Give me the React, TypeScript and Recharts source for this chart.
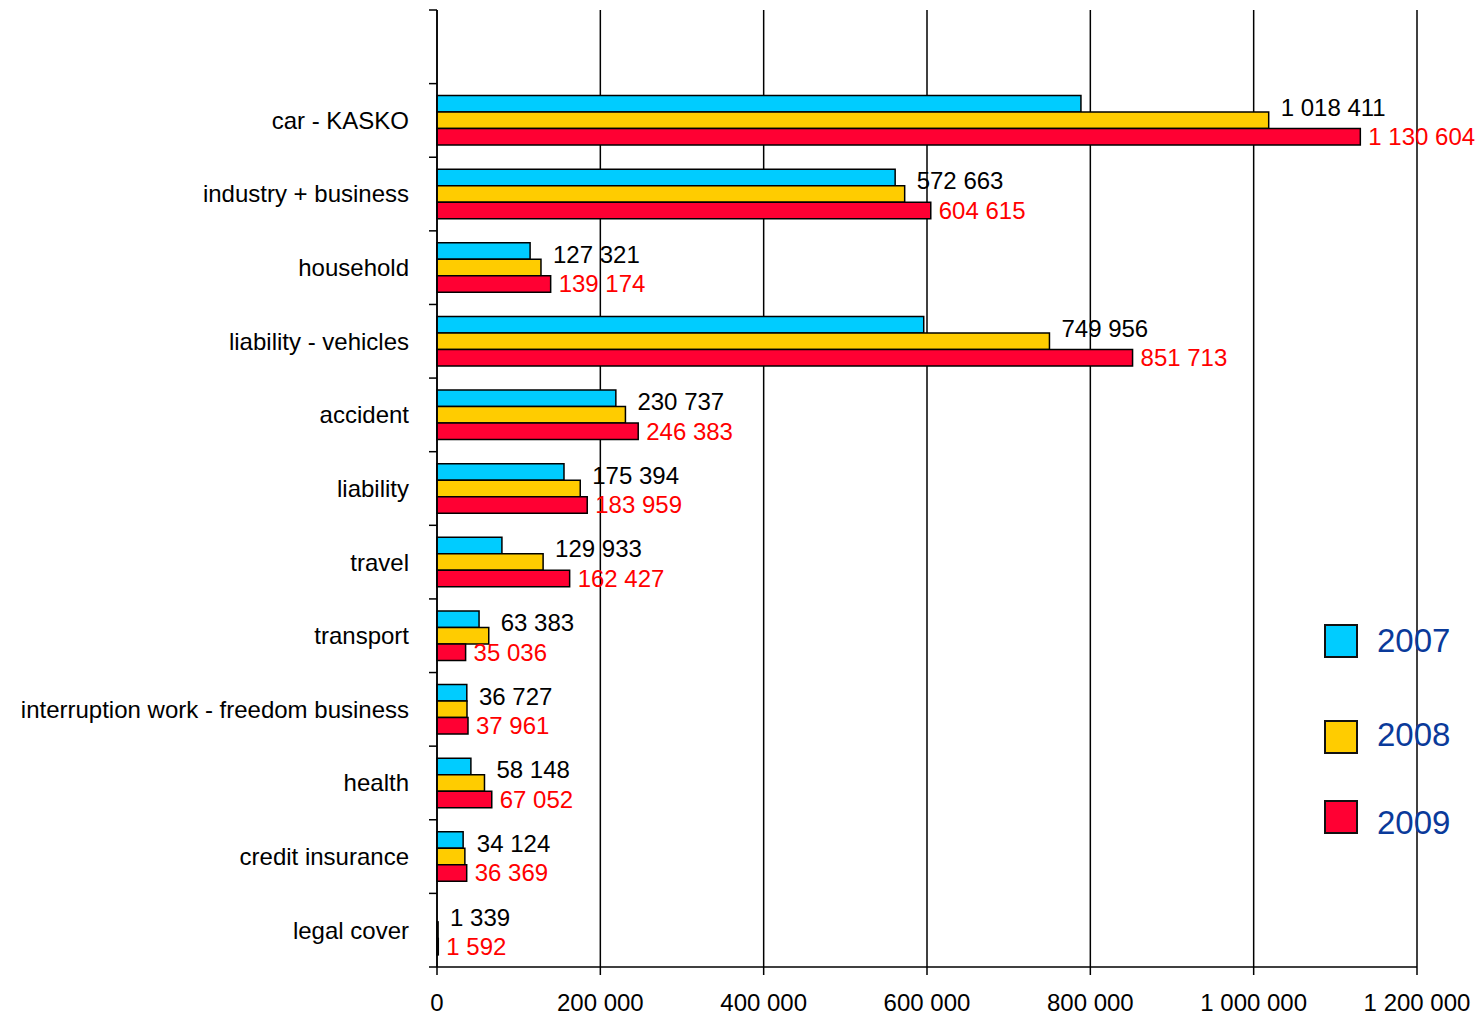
import React from 'react';
import {
  BarChart,
  Bar,
  XAxis,
  YAxis,
  CartesianGrid,
  LabelList
} from 'recharts';

const categories = [
  '',
  'car - KASKO',
  'industry + business',
  'household',
  'liability - vehicles',
  'accident',
  'liability',
  'travel',
  'transport',
  'interruption work - freedom business',
  'health',
  'credit insurance',
  'legal cover'
];

const values2007 = [null, 788500, 561000, 114000, 596000, 219000, 155500, 79500, 51500, 36500, 41500, 32000, null];
const values2008 = [null, 1018411, 572663, 127321, 749956, 230737, 175394, 129933, 63383, 36727, 58148, 34124, 1339];
const values2009 = [null, 1130604, 604615, 139174, 851713, 246383, 183959, 162427, 35036, 37961, 67052, 36369, 1592];

const xTicks = [0, 200000, 400000, 600000, 800000, 1000000, 1200000];

const series = [
  { key: 'y2007', name: '2007', color: '#00CCFF' },
  { key: 'y2008', name: '2008', color: '#FFCC00' },
  { key: 'y2009', name: '2009', color: '#FF0033' }
];

const data = categories.map((name, i) => ({
  name,
  y2007: values2007[i],
  y2008: values2008[i],
  y2009: values2009[i]
}));

const W = 1481;
const H = 1018;
const PLOT_TOP = 10;
const PLOT_BOTTOM = 967;
const PLOT_LEFT = 437;
const PLOT_RIGHT = 1417;
const BAND = (PLOT_BOTTOM - PLOT_TOP) / categories.length;
const FONT = 'Arial, "Liberation Sans", sans-serif';
const FS = 24;

const fmt = (v: number) => String(Math.round(v)).replace(/\B(?=(\d{3})+(?!\d))/g, ' ');

const CategoryTick = (props: any) => {
  const { x, y, payload, index } = props;
  const top = y - BAND / 2;
  return (
    <g>
      <line x1={PLOT_LEFT - 8} x2={PLOT_LEFT} y1={top} y2={top} stroke="#000" strokeWidth={1.5} />
      {index === categories.length - 1 && (
        <line x1={PLOT_LEFT - 8} x2={PLOT_LEFT} y1={top + BAND} y2={top + BAND} stroke="#000" strokeWidth={1.5} />
      )}
      <text x={x - 20} y={y} dy="0.35em" textAnchor="end" fontSize={FS} fill="#000" fontFamily={FONT}>
        {payload.value}
      </text>
    </g>
  );
};

const makeLabel = (color: string, dy: number, dx: number) => (props: any) => {
  const { x, y, width, height, value } = props;
  if (value == null) return null;
  return (
    <text
      x={x + width + dx}
      y={y + height / 2 + dy}
      dy="0.35em"
      fontSize={FS}
      fill={color}
      fontFamily={FONT}
    >
      {fmt(value)}
    </text>
  );
};

const LegendBox = () => (
  <div style={{ position: 'absolute', left: 1324, top: 624, width: 150, height: 240 }}>
    {series.map((s, i) => (
      <div
        key={s.key}
        style={{
          position: 'absolute',
          left: 0,
          top: [0, 96, 176][i],
          display: 'flex',
          alignItems: 'center'
        }}
      >
        <div style={{ width: 30, height: 30, background: s.color, border: '2px solid #111' }} />
        <span
          style={{
            marginLeft: 19,
            fontSize: 33,
            color: '#0A3A9A',
            fontFamily: FONT,
            lineHeight: '34px',
            position: 'relative',
            top: i === 0 ? 0 : i === 1 ? -2 : 6
          }}
        >
          {s.name}
        </span>
      </div>
    ))}
  </div>
);

export default function App() {
  return (
    <div style={{ position: 'absolute', left: 0, top: 0, width: W, height: H, background: '#fff' }}>
      <BarChart
        width={W}
        height={H}
        data={data}
        layout="vertical"
        margin={{ top: PLOT_TOP, right: W - PLOT_RIGHT, bottom: 0, left: 0 }}
        barGap={0}
        barSize={16.5}
      >
        <CartesianGrid horizontal={false} stroke="#000" strokeWidth={1.5} />
        <XAxis
          type="number"
          domain={[0, 1200000]}
          ticks={xTicks}
          tickFormatter={fmt}
          height={H - PLOT_BOTTOM}
          axisLine={{ stroke: '#000', strokeWidth: 1.5 }}
          tickLine={{ stroke: '#000', strokeWidth: 1.5 }}
          tickSize={8}
          tickMargin={19}
          tick={{ fontSize: FS, fill: '#000', fontFamily: FONT }}
          interval={0}
        />
        <YAxis
          type="category"
          dataKey="name"
          width={PLOT_LEFT}
          axisLine={{ stroke: '#000', strokeWidth: 1.5 }}
          tickLine={false}
          tick={<CategoryTick />}
          interval={0}
        />
        {series.map((s) => (
          <Bar
            key={s.key}
            dataKey={s.key}
            name={s.name}
            fill={s.color}
            stroke="#000"
            strokeWidth={1.5}
            isAnimationActive={false}
          >
            {s.key === 'y2008' && <LabelList dataKey={s.key} content={makeLabel('#000', -13, 12)} />}
            {s.key === 'y2009' && <LabelList dataKey={s.key} content={makeLabel('#FF0000', 0, 8)} />}
          </Bar>
        ))}
      </BarChart>
      <LegendBox />
    </div>
  );
}
